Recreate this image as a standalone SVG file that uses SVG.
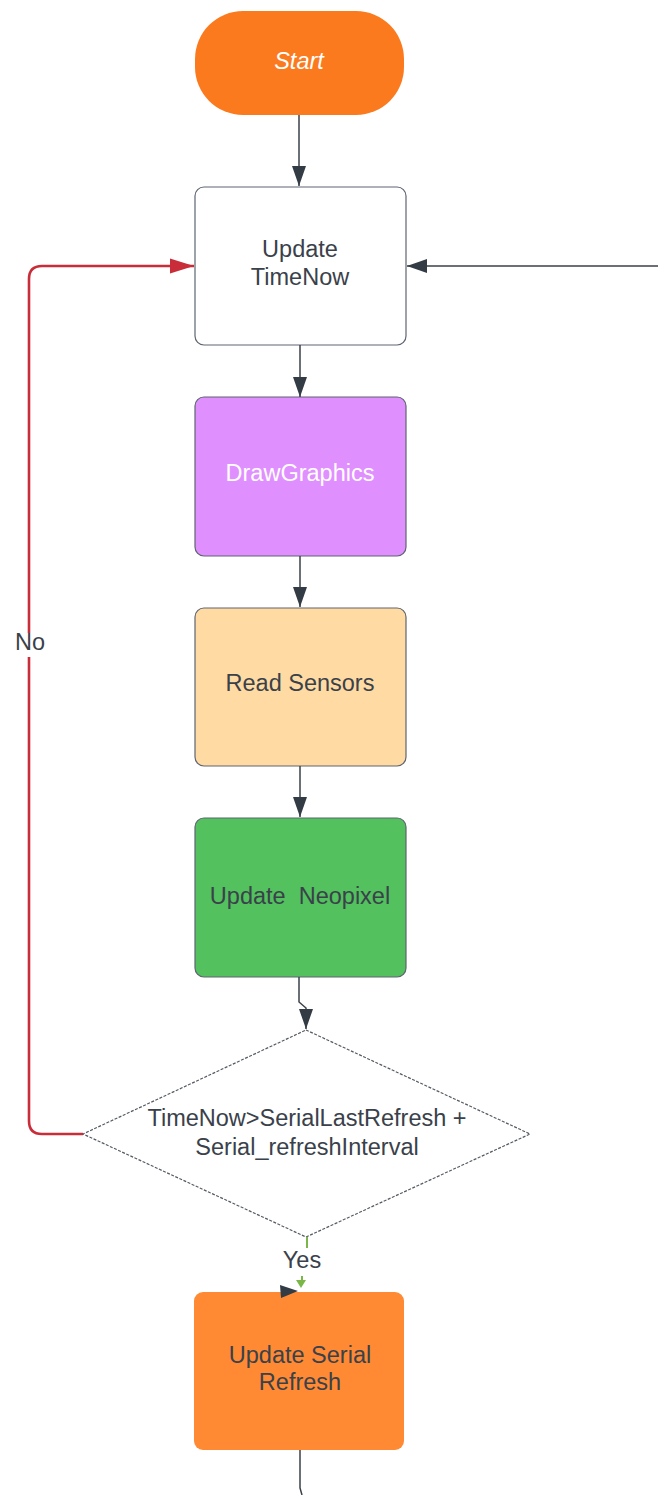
<svg xmlns="http://www.w3.org/2000/svg" width="658" height="1495" viewBox="0 0 658 1495">
  <style>
    .t { font-family: "Liberation Sans", Arial, sans-serif; font-size: 23.5px; fill: #3a414a; text-anchor: middle; }
    .tw { fill: #ffffff; }
    .box { stroke: #5e6470; stroke-width: 1.2; }
    .conn { fill: none; stroke: #3a414a; stroke-width: 1.5; }
    .red { fill: none; stroke: #c92d39; stroke-width: 2.6; }
    .green { fill: none; stroke: #7ab648; stroke-width: 2; }
  </style>
  <defs>
    <marker id="arr" markerUnits="userSpaceOnUse" markerWidth="22" markerHeight="16" refX="20" refY="8" orient="auto">
      <path d="M0,1 L20,8 L0,15 Z" fill="#333b45"/>
    </marker>
    <marker id="arrRed" markerUnits="userSpaceOnUse" markerWidth="26" markerHeight="16" refX="24" refY="8" orient="auto">
      <path d="M0,0.5 L24,8 L0,15.5 Z" fill="#c92d39"/>
    </marker>
  </defs>

  <g id="start">
    <rect x="195" y="11" width="209" height="104" rx="48" fill="#fc7a1e"/>
    <text class="t tw" x="299" y="69" font-style="italic">Start</text>
  </g>

  <g id="update-timenow">
    <rect class="box" x="195" y="187" width="211" height="158" rx="9" fill="#ffffff"/>
    <text class="t" x="300" y="257">Update</text>
    <text class="t" x="300" y="285">TimeNow</text>
  </g>

  <g id="drawgraphics">
    <rect class="box" x="195" y="397" width="211" height="159" rx="9" fill="#e08fff"/>
    <text class="t tw" x="300" y="481">DrawGraphics</text>
  </g>

  <g id="read-sensors">
    <rect class="box" x="195" y="608" width="211" height="158" rx="9" fill="#ffdba3"/>
    <text class="t" x="300" y="691">Read Sensors</text>
  </g>

  <g id="update-neopixel">
    <rect class="box" x="195" y="818" width="211" height="159" rx="9" fill="#52c15e"/>
    <text class="t" x="300" y="904" xml:space="preserve">Update  Neopixel</text>
  </g>

  <g id="decision">
    <polygon points="306,1030 530,1134 306,1237 83,1134" fill="#ffffff" stroke="#555b63" stroke-width="1.2" stroke-dasharray="3,1.5"/>
    <text class="t" x="307" y="1126">TimeNow&gt;SerialLastRefresh +</text>
    <text class="t" x="307" y="1155">Serial_refreshInterval</text>
  </g>

  <g id="update-serial-refresh">
    <rect x="194" y="1292" width="210" height="158" rx="9" fill="#ff8a33"/>
    <text class="t" x="300" y="1363">Update Serial</text>
    <text class="t" x="300" y="1390">Refresh</text>
  </g>

  <g id="connectors">
    <path class="conn" d="M299,115 L299,186" marker-end="url(#arr)"/>
    <path class="conn" d="M658,266 L407,266" marker-end="url(#arr)"/>
    <path class="conn" d="M300,345 L300,397" marker-end="url(#arr)"/>
    <path class="conn" d="M300,556 L300,607" marker-end="url(#arr)"/>
    <path class="conn" d="M300,766 L300,817" marker-end="url(#arr)"/>
    <path class="conn" d="M299,977 L299,1002 L306,1008 L306,1029" marker-end="url(#arr)"/>
    <path class="red" d="M83,1134 L42,1134 Q29,1134 29,1121 L29,657"/>
    <path class="red" d="M29,633 L29,279 Q29,266 42,266 L194,266" marker-end="url(#arrRed)"/>
    <path class="green" d="M307,1237 L307,1248"/>
    <path class="green" d="M302,1276 L302,1282"/>
    <polygon points="296,1280 306,1280 301,1288" fill="#7ab648"/>
    <polygon points="280,1285 298,1291 281,1298" fill="#333b45"/>
    <path class="conn" d="M300,1450 L300,1488 L302,1495"/>
    <text class="t" x="30" y="650">No</text>
    <text class="t" x="302" y="1268">Yes</text>
  </g>
</svg>
